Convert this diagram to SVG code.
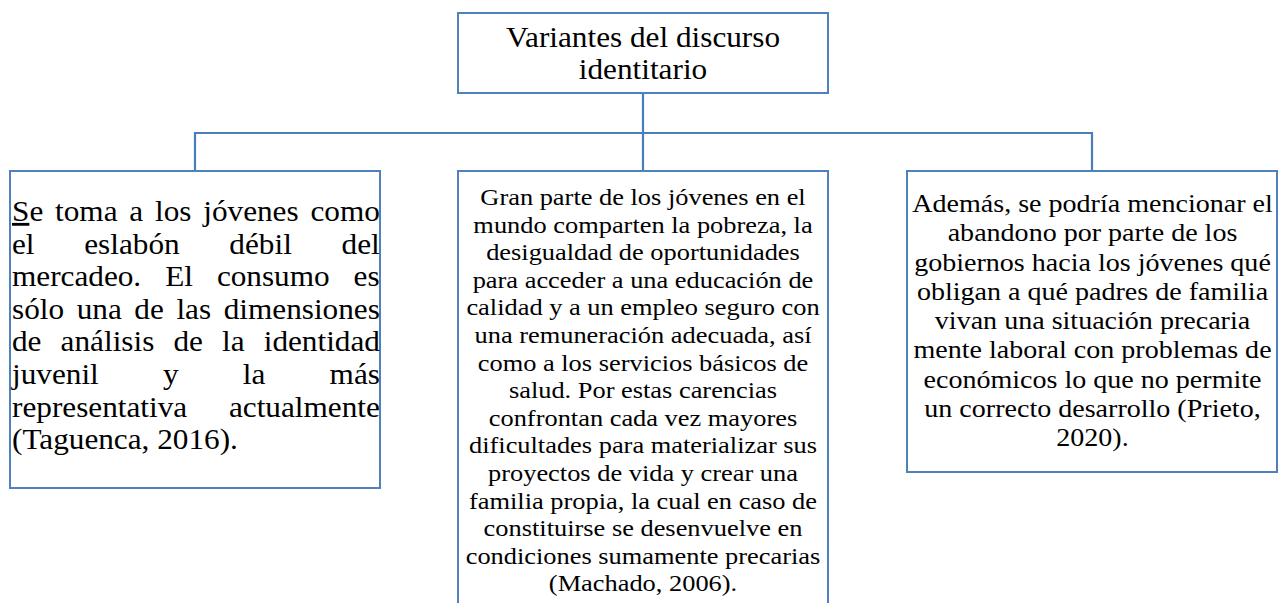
<svg xmlns="http://www.w3.org/2000/svg" width="1280" height="603" viewBox="0 0 1280 603">
<style>
.box{fill:#ffffff;stroke:#4f81bd;stroke-width:2}
.conn{fill:none;stroke:#4a7ebb;stroke-width:2.2}
.t{font-family:"Liberation Serif","Times New Roman",serif;fill:#000000}
.c{text-anchor:middle}
</style>
<rect width="1280" height="603" fill="#ffffff"/>
<g id="connectors">
<path class="conn" d="M643 93 V133"/>
<path class="conn" d="M195 171 V133 H1092 V171"/>
<path class="conn" d="M643 133 V171"/>
</g>
<g id="node-top">
<rect class="box" x="458" y="13" width="370" height="80"/>
<g transform="matrix(1.1 0 0 1 643 0)">
<text class="t c" font-size="28.4" x="0" y="47">Variantes del discurso</text>
<text class="t c" font-size="28.4" x="0" y="79.5">identitario</text>
</g>
</g>
<g id="node-left">
<rect class="box" x="10" y="171" width="370" height="317"/>
<g transform="matrix(1.1 0 0 1 12 0)" class="t" font-size="28.4">
<text x="0" y="221" word-spacing="3.64"><tspan style="text-decoration:underline">S</tspan>e toma a los jóvenes como</text>
<text x="0" y="253.6" word-spacing="38.1">el eslabón débil del</text>
<text x="0" y="286.2" word-spacing="14.7">mercadeo. El consumo es</text>
<text x="0" y="318.8" word-spacing="4.35">sólo una de las dimensiones</text>
<text x="0" y="351.4" word-spacing="10.3">de análisis de la identidad</text>
<text x="0" y="384" word-spacing="51.3">juvenil y la más</text>
<text x="0" y="416.6" word-spacing="30.9">representativa actualmente</text>
<text x="0" y="449.2">(Taguenca, 2016).</text>
</g>
</g>
<g id="node-middle">
<rect class="box" x="458" y="171" width="370" height="445"/>
<g transform="matrix(1.1 0 0 1 643 0)" class="t c" font-size="24">
<text x="0" y="205">Gran parte de los jóvenes en el</text>
<text x="0" y="232.6">mundo comparten la pobreza, la</text>
<text x="0" y="260.2">desigualdad de oportunidades</text>
<text x="0" y="287.8">para acceder a una educación de</text>
<text x="0" y="315.4">calidad y a un empleo seguro con</text>
<text x="0" y="343">una remuneración adecuada, así</text>
<text x="0" y="370.6">como a los servicios básicos de</text>
<text x="0" y="398.2">salud. Por estas carencias</text>
<text x="0" y="425.8">confrontan cada vez mayores</text>
<text x="0" y="453.4">dificultades para materializar sus</text>
<text x="0" y="481">proyectos de vida y crear una</text>
<text x="0" y="508.6">familia propia, la cual en caso de</text>
<text x="0" y="536.2">constituirse se desenvuelve en</text>
<text x="0" y="563.8">condiciones sumamente precarias</text>
<text x="0" y="591.4">(Machado, 2006).</text>
</g>
</g>
<g id="node-right">
<rect class="box" x="907" y="171" width="370" height="301"/>
<g transform="matrix(1.1 0 0 1 1092.5 0)" class="t c" font-size="25.5">
<text x="0" y="212">Además, se podría mencionar el</text>
<text x="0" y="241.3">abandono por parte de los</text>
<text x="0" y="270.6">gobiernos hacia los jóvenes qué</text>
<text x="0" y="299.9">obligan a qué padres de familia</text>
<text x="0" y="329.2">vivan una situación precaria</text>
<text x="0" y="358.5">mente laboral con problemas de</text>
<text x="0" y="387.8">económicos lo que no permite</text>
<text x="0" y="417.1">un correcto desarrollo (Prieto,</text>
<text x="0" y="446.4">2020).</text>
</g>
</g>
</svg>
